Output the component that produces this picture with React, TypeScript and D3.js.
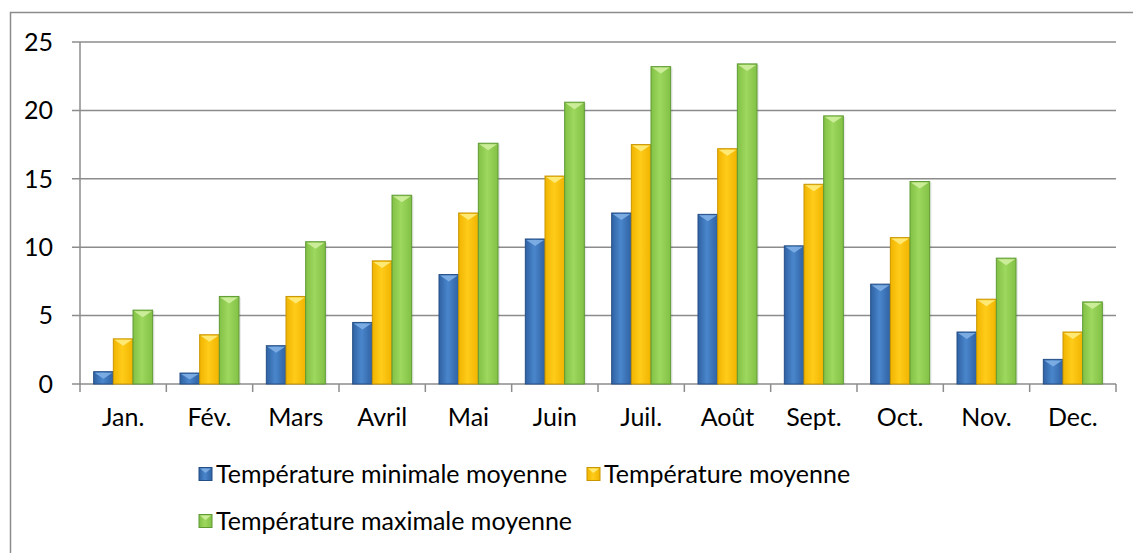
import React from "react"
import * as d3 from "d3"

// Data
const months = ["Jan.", "Fév.", "Mars", "Avril", "Mai", "Juin", "Juil.", "Août", "Sept.", "Oct.", "Nov.", "Dec."]
const seriesNames = ["Température minimale moyenne", "Température moyenne", "Température maximale moyenne"]
const tMin = [0.9, 0.8, 2.8, 4.5, 8.0, 10.6, 12.5, 12.4, 10.1, 7.3, 3.8, 1.8]
const tMoy = [3.3, 3.6, 6.4, 9.0, 12.5, 15.2, 17.5, 17.2, 14.6, 10.7, 6.2, 3.8]
const tMax = [5.4, 6.4, 10.4, 13.8, 17.6, 20.6, 23.2, 23.4, 19.6, 14.8, 9.2, 6.0]
const yTicks = [0, 5, 10, 15, 20, 25]

const palette = [
  { id: "gBlue", edge: "#244f86", dark: "#2f62a3", light: "#4a86cc", top: "#7fb0e6" },
  { id: "gYellow", edge: "#c99500", dark: "#f0b400", light: "#ffcc1a", top: "#ffec80" },
  { id: "gGreen", edge: "#5f9a34", dark: "#82c046", light: "#9ed85e", top: "#d0f0a0" }
]

const font = "Lato, 'Open Sans', sans-serif"
const fs = 25

export default function App() {
  const totalW = 1133
  const totalH = 553
  const margin = { left: 80, right: 17, top: 42, bottom: 169 }
  const w = totalW - margin.left - margin.right
  const h = totalH - margin.top - margin.bottom

  const values = [tMin, tMoy, tMax]

  const x0 = d3.scaleBand<string>().domain(months).range([0, w])
  const groupW = 59
  const x1 = d3
    .scaleBand<number>()
    .domain(d3.range(values.length))
    .range([(x0.bandwidth() - groupW) / 2, (x0.bandwidth() + groupW) / 2])
  const y = d3.scaleLinear().domain([0, 25]).range([h, 0])

  const bevel = 6

  return (
    <svg
      width={totalW}
      height={totalH}
      style={{ position: "absolute", left: 0, top: 0, background: "#fff" }}
    >
      <defs>
        {palette.map(p => (
          <linearGradient key={p.id} id={p.id} x1="0" x2="1" y1="0" y2="0">
            <stop offset="0%" stopColor={p.dark} />
            <stop offset="45%" stopColor={p.light} />
            <stop offset="100%" stopColor={p.dark} />
          </linearGradient>
        ))}
      </defs>

      {/* chart border */}
      <rect x={10.5} y={12.5} width={totalW + 10} height={totalH + 10} fill="none" stroke="#8c8c8c" strokeWidth={1.5} />

      <g transform={`translate(${margin.left}, ${margin.top})`}>
        {/* gridlines */}
        {yTicks.map(t => (
          <g key={`grid-${t}`}>
            <line x1={-8} x2={w} y1={y(t)} y2={y(t)} stroke="#8c8c8c" strokeWidth={1.5} />
            <text
              x={-27}
              y={y(t)}
              dy="0.35em"
              fontSize={fs}
              fontFamily={font}
              textAnchor="end"
              fill="#000"
            >
              {t}
            </text>
          </g>
        ))}
        <line x1={0} x2={0} y1={0} y2={h} stroke="#8c8c8c" strokeWidth={1.5} />

        {/* x ticks */}
        {d3.range(months.length + 1).map(i => (
          <line
            key={`xt-${i}`}
            x1={i * x0.step()}
            x2={i * x0.step()}
            y1={h}
            y2={h + 8}
            stroke="#8c8c8c"
            strokeWidth={1.5}
          />
        ))}
        {months.map(m => (
          <text
            key={`xl-${m}`}
            x={(x0(m) ?? 0) + x0.bandwidth() / 2}
            y={h + 42}
            fontSize={fs}
            fontFamily={font}
            textAnchor="middle"
            fill="#000"
          >
            {m}
          </text>
        ))}

        {/* bars */}
        {values.map((series, s) =>
          series.map((d, i) => {
            const bx = (x0(months[i]) ?? 0) + (x1(s) ?? 0)
            const bw = x1.bandwidth()
            const by = y(d)
            const bh = h - y(d)
            const p = palette[s]
            const bv = Math.min(bevel, bh / 2)
            return (
              <g key={`bar-${s}-${i}`}>
                <rect x={bx + 2} y={by + 1} width={bw} height={bh - 1} fill="#000" opacity={0.08} />
                <rect x={bx} y={by} width={bw} height={bh} fill={`url(#${p.id})`} stroke={p.edge} strokeWidth={1} />
                <path
                  d={`M${bx + 1},${by + 1} L${bx + bw - 1},${by + 1} L${bx + bw / 2},${by + bv + 1} Z`}
                  fill={p.top}
                  opacity={0.9}
                />
              </g>
            )
          })
        )}
      </g>

      {/* legend */}
      {[
        { s: 0, x: 199, y: 474 },
        { s: 1, x: 587, y: 474 },
        { s: 2, x: 199, y: 521 }
      ].map(l => (
        <g key={`leg-${l.s}`} transform={`translate(${l.x}, ${l.y})`}>
          <rect x={0} y={-6.5} width={13} height={13} fill={`url(#${palette[l.s].id})`} stroke={palette[l.s].edge} />
          <path d="M1,-5.5 L12,-5.5 L6.5,-1 Z" fill={palette[l.s].top} opacity={0.9} />
          <text x={17} y={0} dy="0.35em" fontSize={fs} fontFamily={font} fill="#000">
            {seriesNames[l.s]}
          </text>
        </g>
      ))}
    </svg>
  )
}
